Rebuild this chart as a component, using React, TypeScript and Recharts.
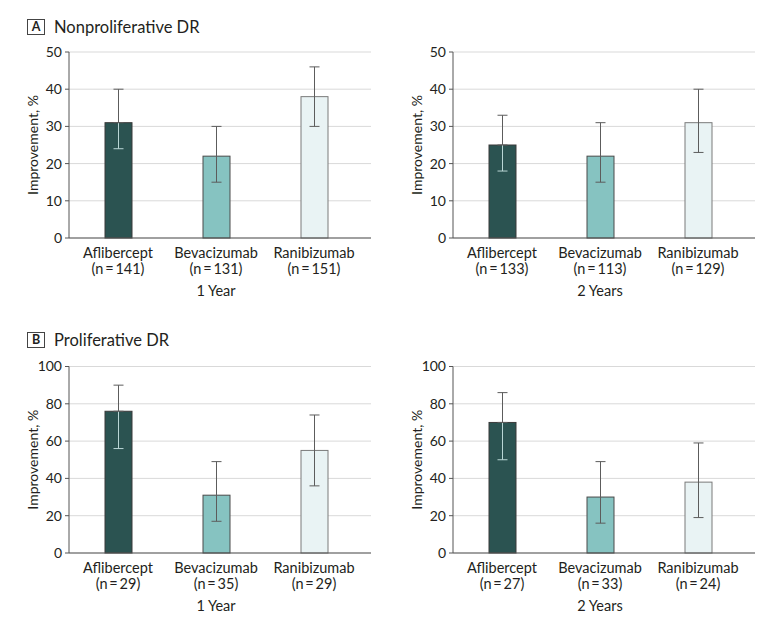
import React from 'react';
import { BarChart, Bar, XAxis, YAxis, CartesianGrid, ErrorBar, Cell } from 'recharts';

const drugs = ['Aflibercept', 'Bevacizumab', 'Ranibizumab'];
const barColors = ['#2b5351', '#86c3c1', '#e9f3f4'];
const barStrokes = ['#3a3a3a', '#4a4a4a', '#7a7a7a'];

const npdr1Counts = [141, 131, 151];
const npdr1Values = [31, 22, 38];
const npdr1Low = [24, 15, 30];
const npdr1High = [40, 30, 46];

const npdr2Counts = [133, 113, 129];
const npdr2Values = [25, 22, 31];
const npdr2Low = [18, 15, 23];
const npdr2High = [33, 31, 40];

const pdr1Counts = [29, 35, 29];
const pdr1Values = [76, 31, 55];
const pdr1Low = [56, 17, 36];
const pdr1High = [90, 49, 74];

const pdr2Counts = [27, 33, 24];
const pdr2Values = [70, 30, 38];
const pdr2Low = [50, 16, 19];
const pdr2High = [86, 49, 59];

const npdrTicks = [0, 10, 20, 30, 40, 50];
const pdrTicks = [0, 20, 40, 60, 80, 100];

const FONT = 'Lato, "Noto Sans", sans-serif';
const TEXT = '#231f20';
const AXIS = '#555555';
const CAT_FS = 14.5;
const INNER = '#b9d6d5';

function buildRows(counts: number[], values: number[], low: number[], high: number[]) {
  return drugs.map((d, i) => ({
    drug: d,
    n: counts[i],
    value: values[i],
    low: low[i],
    high: high[i],
    dark: i === 0,
    // for the dark bar, the lower half of the CI is drawn in a light tone inside the bar
    err: i === 0 ? [0, high[i] - values[i]] : [values[i] - low[i], high[i] - values[i]],
  }));
}

const BarShape = (props: any) => {
  const { x, y, width, height, fill, stroke, payload } = props;
  const cx = x + width / 2;
  let inner = null;
  if (payload && payload.dark && height > 0) {
    const ppu = height / payload.value;
    const yLow = y + (payload.value - payload.low) * ppu;
    inner = (
      <g stroke={INNER} strokeWidth={1}>
        <line x1={cx} y1={y} x2={cx} y2={yLow} />
        <line x1={cx - 5} y1={yLow} x2={cx + 5} y2={yLow} />
      </g>
    );
  }
  return (
    <g>
      <rect x={x} y={y} width={width} height={height} fill={fill} stroke={stroke} strokeWidth={1} />
      {inner}
    </g>
  );
};

const CategoryTick = (props: any) => {
  const { x, y, payload, counts } = props;
  const i = drugs.indexOf(payload.value);
  return (
    <g>
      <text x={x} y={y + 14} textAnchor="middle" dominantBaseline="central" fontSize={CAT_FS} fill={TEXT} fontFamily={FONT}>
        {payload.value}
      </text>
      <text x={x} y={y + 30} textAnchor="middle" dominantBaseline="central" fontSize={CAT_FS} fill={TEXT} fontFamily={FONT}>
        {`(n\u2009=\u2009${counts[i]})`}
      </text>
    </g>
  );
};

type PanelProps = {
  left: number;
  top: number;
  height: number;
  marginTop: number;
  counts: number[];
  values: number[];
  low: number[];
  high: number[];
  ticks: number[];
  period: string;
};

function Panel({ left, top, height, marginTop, counts, values, low, high, ticks, period }: PanelProps) {
  const rows = buildRows(counts, values, low, high);
  return (
    <div style={{ position: 'absolute', left, top }}>
      <BarChart
        width={380}
        height={height}
        data={rows}
        margin={{ top: marginTop, right: 9, left: 0, bottom: 10 }}
        barSize={27}
      >
        <CartesianGrid vertical={false} stroke="#d9d9d9" strokeWidth={1} />
        <XAxis
          dataKey="drug"
          height={62}
          interval={0}
          padding={{ left: 0, right: 8 }}
          tickLine={false}
          tickSize={0}
          tickMargin={0}
          axisLine={{ stroke: AXIS, strokeWidth: 1 }}
          tick={<CategoryTick counts={counts} />}
          label={{
            content: (p: any) => {
              const vb = p.viewBox || {};
              return (
                <text
                  x={vb.x + (vb.width - 8) / 2}
                  y={vb.y + 52}
                  textAnchor="middle"
                  dominantBaseline="central"
                  fontSize={CAT_FS}
                  fill={TEXT}
                  fontFamily={FONT}
                >
                  {period}
                </text>
              );
            },
          }}
        />
        <YAxis
          width={69}
          domain={[ticks[0], ticks[ticks.length - 1]]}
          ticks={ticks}
          interval={0}
          tickSize={4}
          tickMargin={3}
          tickLine={{ stroke: AXIS }}
          axisLine={{ stroke: AXIS, strokeWidth: 1 }}
          tick={{ fontSize: 14, fill: TEXT, fontFamily: FONT }}
          label={{
            value: 'Improvement, %',
            angle: -90,
            position: 'insideLeft',
            offset: 33,
            style: { textAnchor: 'middle', fontSize: 14, fill: TEXT, fontFamily: FONT },
          }}
        />
        <Bar dataKey="value" isAnimationActive={false} shape={<BarShape />}>
          {rows.map((r, i) => (
            <Cell key={r.drug} fill={barColors[i]} stroke={barStrokes[i]} />
          ))}
          <ErrorBar dataKey="err" width={5} stroke="#5c5c5c" strokeWidth={1} direction="y" />
        </Bar>
      </BarChart>
    </div>
  );
}

const Header = ({ top, letter, title }: { top: number; letter: string; title: string }) => (
  <div style={{ position: 'absolute', left: 27, top, height: 17, display: 'flex', alignItems: 'center', fontFamily: FONT, color: TEXT }}>
    <div
      style={{
        width: 16,
        height: 14,
        border: '1px solid #444',
        display: 'flex',
        alignItems: 'center',
        justifyContent: 'center',
        fontSize: 12.5,
        fontWeight: 700,
        boxSizing: 'content-box',
      }}
    >
      {letter}
    </div>
    <div style={{ marginLeft: 9, fontSize: 16.5 }}>{title}</div>
  </div>
);

export default function App() {
  return (
    <div style={{ position: 'absolute', left: 0, top: 0, width: 783, height: 623, background: '#ffffff', overflow: 'hidden' }}>
      <Header top={18} letter="A" title="Nonproliferative DR" />
      <Header top={331} letter="B" title="Proliferative DR" />
      <Panel left={0} top={40} height={270} marginTop={12} counts={npdr1Counts} values={npdr1Values} low={npdr1Low} high={npdr1High} ticks={npdrTicks} period="1 Year" />
      <Panel left={384} top={40} height={270} marginTop={12} counts={npdr2Counts} values={npdr2Values} low={npdr2Low} high={npdr2High} ticks={npdrTicks} period="2 Years" />
      <Panel left={0} top={354} height={271} marginTop={12.5} counts={pdr1Counts} values={pdr1Values} low={pdr1Low} high={pdr1High} ticks={pdrTicks} period="1 Year" />
      <Panel left={384} top={354} height={271} marginTop={12.5} counts={pdr2Counts} values={pdr2Values} low={pdr2Low} high={pdr2High} ticks={pdrTicks} period="2 Years" />
    </div>
  );
}
